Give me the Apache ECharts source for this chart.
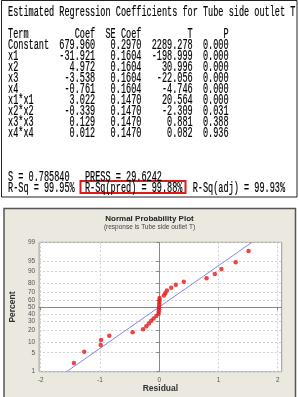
<!DOCTYPE html>
<html><head><meta charset="utf-8">
<script src="https://cdn.jsdelivr.net/npm/echarts@6/dist/echarts.min.js"></script>
<style>html,body{margin:0;padding:0;background:#fff}#c{width:299px;height:397px}</style>
</head><body><div id="c"></div>
<script>
// ---- table data ----
const tableTitle = 'Estimated Regression Coefficients for Tube side outlet T';
const headers = ['Term', 'Coef', 'SE Coef', 'T', 'P'];
const terms = ['Constant', 'x1', 'x2', 'x3', 'x4', 'x1*x1', 'x2*x2', 'x3*x3', 'x4*x4'];
const coef = ['679.960', '-31.921', '4.972', '-3.538', '-0.761', '3.022', '-0.339', '0.129', '0.012'];
const seCoef = ['0.2970', '0.1604', '0.1604', '0.1604', '0.1604', '0.1470', '0.1470', '0.1470', '0.1470'];
const tVals = ['2289.278', '-198.999', '30.996', '-22.056', '-4.746', '20.564', '-2.309', '0.881', '0.082'];
const pVals = ['0.000', '0.000', '0.000', '0.000', '0.000', '0.000', '0.031', '0.388', '0.936'];
const summaryLine = 'S = 0.785840   PRESS = 29.6242';
const rsqParts = ['R-Sq = 99.95%', 'R-Sq(pred) = 99.88%', 'R-Sq(adj) = 99.93%'];

// ---- chart data ----
const chartTitle = 'Normal Probability Plot';
const chartSubtitle = '(response is Tube side outlet T)';
const xName = 'Residual';
const yName = 'Percent';
const residuals = [-1.44, -1.266, -0.988, -0.982, -0.843, -0.449, -0.273, -0.218, -0.175, -0.135, -0.095, -0.05,
  -0.012, -0.008, -0.005, -0.003, 0.0, 0.002, 0.004, 0.006,
  0.079, 0.102, 0.129, 0.201, 0.28, 0.414, 0.799, 0.938, 1.05, 1.29, 1.508];
const percents = [2.2, 5.4, 8.6, 11.8, 15.0, 18.2, 21.3, 24.5, 27.7, 30.9, 34.1, 37.3, 40.4, 43.6, 46.8, 50.0,
  53.2, 56.4, 59.6, 62.7, 65.9, 69.1, 72.3, 75.5, 78.7, 81.8, 85.0, 88.2, 91.4, 94.6, 97.8];
const fitResidual = [-1.565, 1.565];
const fitPercent = [1, 99];
const pctTicks = [1, 5, 10, 20, 30, 40, 50, 60, 70, 80, 90, 95, 99];
const resTicks = [-2, -1, 0, 1, 2];

// inverse normal CDF (Acklam) – probability axis transform
function invNorm(p) {
  const a = [-3.969683028665376e+01, 2.209460984245205e+02, -2.759285104469687e+02, 1.383577518672690e+02, -3.066479806614716e+01, 2.506628277459239e+00];
  const b = [-5.447609879822406e+01, 1.615858368580409e+02, -1.556989798598866e+02, 6.680131188771972e+01, -1.328068155288572e+01];
  const c = [-7.784894002430293e-03, -3.223964580411365e-01, -2.400758277161838e+00, -2.549732539343734e+00, 4.374664141464968e+00, 2.938163982698783e+00];
  const d = [7.784695709041462e-03, 3.224671290700398e-01, 2.445134137142996e+00, 3.754408661907416e+00];
  const pl = 0.02425, ph = 1 - pl;
  let q, r;
  if (p < pl) { q = Math.sqrt(-2 * Math.log(p)); return (((((c[0]*q+c[1])*q+c[2])*q+c[3])*q+c[4])*q+c[5]) / ((((d[0]*q+d[1])*q+d[2])*q+d[3])*q+1); }
  if (p <= ph) { q = p - 0.5; r = q*q; return (((((a[0]*r+a[1])*r+a[2])*r+a[3])*r+a[4])*r+a[5])*q / (((((b[0]*r+b[1])*r+b[2])*r+b[3])*r+b[4])*r+1); }
  q = Math.sqrt(-2 * Math.log(1 - p)); return -(((((c[0]*q+c[1])*q+c[2])*q+c[3])*q+c[4])*q+c[5]) / ((((d[0]*q+d[1])*q+d[2])*q+d[3])*q+1);
}
const z = pct => invNorm(pct / 100);

// ---- build monospaced table lines ----
const W = [8, 9, 9, 10, 7];
function row(cells) {
  return cells[0].padEnd(W[0]) + cells[1].padStart(W[1]) + cells[2].padStart(W[2]) + cells[3].padStart(W[3]) + cells[4].padStart(W[4]);
}
const lines = [tableTitle, '', row(headers)];
terms.forEach((t, i) => lines.push(row([t, coef[i], seCoef[i], tVals[i], pVals[i]])));
lines.push('', '', '', summaryLine, rsqParts.join('  '));

const LINE0 = 12, LH = 11, CHW = 5.13, FS = 12;
const monoFont = FS + 'px "Liberation Mono", "DejaVu Sans Mono", monospace';
const graphics = [
  { type: 'rect', z: -10, shape: { x: 1.5, y: 0.5, width: 295.5, height: 196.5 }, style: { fill: '#fff', stroke: '#222', lineWidth: 1 } },
  { type: 'rect', z: -10, shape: { x: 4, y: 208.5, width: 291.5, height: 200 }, style: { fill: '#ebe8e0', stroke: '#555', lineWidth: 1.5 } },
  { type: 'rect', z: 5, shape: { x: 80.5, y: 181, width: 105, height: 12 }, style: { fill: 'none', stroke: '#e01818', lineWidth: 2 } }
];
lines.forEach((ln, i) => {
  if (!ln) return;
  graphics.push({
    type: 'text', z: 10, x: 8, y: LINE0 + i * LH, scaleX: CHW / (FS * 0.6), scaleY: 1.15,
    style: { text: ln, font: monoFont, fill: '#000', stroke: '#000', lineWidth: 0.15, textAlign: 'left', textVerticalAlign: 'middle', align: 'left', verticalAlign: 'middle' }
  });
});

const chart = echarts.init(document.getElementById('c'), null, { renderer: 'canvas' });
const tickFont = { fontSize: 6.5, color: '#555', fontFamily: 'Liberation Sans, Arial, sans-serif' };
chart.setOption({
  animation: false,
  backgroundColor: 'transparent',
  graphic: { elements: graphics },
  title: [
    { text: chartTitle, left: 'center', top: 215, padding: 0, textStyle: { fontSize: 8, fontWeight: 'bold', color: '#222', fontFamily: 'Liberation Sans, Arial, sans-serif' } },
    { text: chartSubtitle, left: 'center', top: 224, padding: 0, textStyle: { fontSize: 6.5, fontWeight: 'normal', color: '#444', fontFamily: 'Liberation Sans, Arial, sans-serif' } }
  ],
  grid: { left: 37.7, right: 17.3, top: 242.3, bottom: 25.3, show: true, backgroundColor: '#fff', borderColor: '#999', borderWidth: 1, containLabel: false },
  xAxis: {
    type: 'value', min: -2.027, max: 2.067,
    name: xName, nameLocation: 'middle', nameGap: 12,
    nameTextStyle: { fontSize: 8.5, fontWeight: 'bold', color: '#333', fontFamily: 'Liberation Sans, Arial, sans-serif' },
    axisLine: { show: true, lineStyle: { color: '#888', width: 1 } },
    axisTick: { show: true, customValues: resTicks, length: 3, inside: false, lineStyle: { color: '#888' } },
    axisLabel: Object.assign({ customValues: resTicks, margin: 5 }, tickFont),
    splitLine: { show: true, lineStyle: { color: '#cfcfcf', type: [2, 2], width: 1 } }
  },
  yAxis: {
    type: 'value', min: z(1), max: z(99),
    name: yName, nameLocation: 'middle', nameGap: 11, nameRotate: 90,
    nameTextStyle: { fontSize: 8.5, fontWeight: 'bold', color: '#333', fontFamily: 'Liberation Sans, Arial, sans-serif' },
    axisLine: { show: true, lineStyle: { color: '#888', width: 1 } },
    axisTick: { show: true, customValues: pctTicks.map(z), length: 3, inside: false, lineStyle: { color: '#888' } },
    axisLabel: Object.assign({
      customValues: pctTicks.map(z), margin: 4,
      formatter: v => { let best = pctTicks[0]; pctTicks.forEach(p => { if (Math.abs(z(p) - v) < Math.abs(z(best) - v)) best = p; }); return String(best); }
    }, tickFont),
    splitLine: { show: true, lineStyle: { color: '#cfcfcf', type: [2, 2], width: 1 } }
  },
  series: [
    {
      type: 'line', data: fitResidual.map((r, i) => [r, z(fitPercent[i])]),
      showSymbol: false, clip: true, lineStyle: { color: '#8585ee', width: 1 }, z: 3, silent: true
    },
    {
      type: 'scatter', data: residuals.map((r, i) => [r, z(percents[i])]),
      symbol: 'circle', symbolSize: 4.5, itemStyle: { color: '#e81818' }, z: 4, silent: true
    }
  ]
});
</script>
</body></html>
